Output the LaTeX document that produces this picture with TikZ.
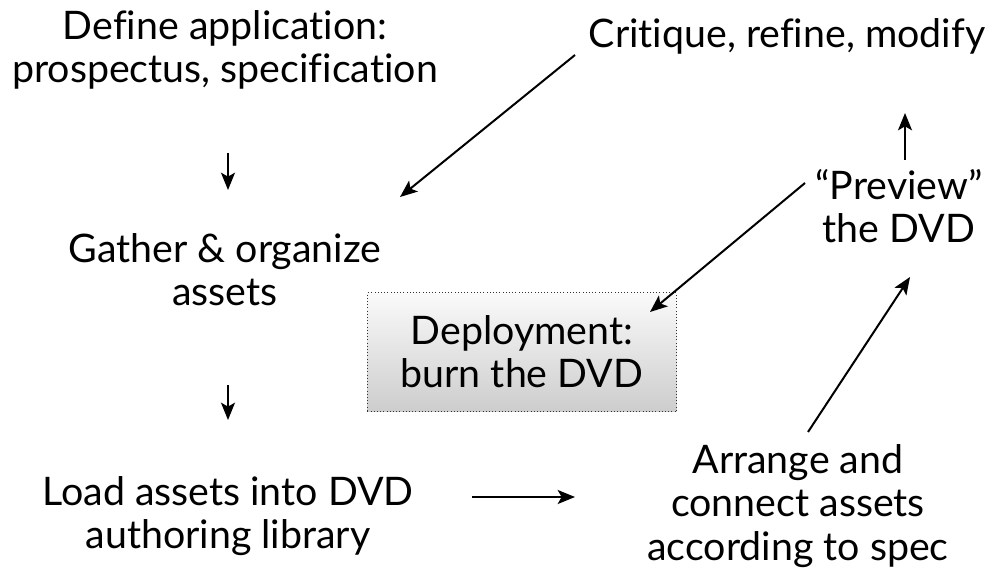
\documentclass[tikz,border=0pt]{standalone}
\usepackage{fontspec}
\setmainfont{Lato}[Ligatures={NoCommon,NoRequired,NoContextual}]
\usetikzlibrary{arrows.meta}
\definecolor{boxtop}{RGB}{250,250,250}
\definecolor{boxbot}{RGB}{205,205,205}
\begin{document}
\begin{tikzpicture}[x=0.75pt, y=-0.75pt,
		lbl/.style={align=center, inner sep=0pt, font=\fontsize{29.5}{32.5}\selectfont},
		depbox/.style={lbl, draw=black!80, dotted, thin, top color=boxtop, bottom color=boxbot,
			minimum width=232pt, minimum height=89pt},
		arr/.style={-{Stealth[length=13pt,width=10.5pt,inset=3pt]}, line width=1.5pt}]
		\useasboundingbox (0,0) rectangle (998,573);
		
		%steps
		\node[lbl] (def) at (225,50) {Define application:\\prospectus, specification};
		\node[lbl] (crit) at (787,36) {Critique, refine, modify};
		\node[lbl] (gat) at (225,270) {Gather \& organize\\assets};
		\node[depbox] (dep) at (522,352) {Deployment:\\burn the DVD};
		\node[lbl] (load) at (228,516) {Load assets into DVD\\authoring library};
		\node[lbl] (arrange) at (798,506) {Arrange and\\connect assets\\according to spec};
		\node[lbl] (prev) at (899,206) {``Preview''\\the DVD};
		
		%arrows
		\draw[arr] ([shift={(3,103)}]def.center) -- ([shift={(3,-80)}]gat.center);
		\draw[arr] ([shift={(3,115)}]gat.center) -- ([shift={(0,-96)}]load.center);
		\draw[arr] ([shift={(244,-19)}]load.center) -- ([shift={(-223,-9)}]arrange.center);
		\draw[arr] ([shift={(10,-74)}]arrange.center) -- ([shift={(11,71)}]prev.center);
		\draw[arr] ([shift={(6,-46)}]prev.center) -- ([shift={(118,77)}]crit.center);
		\draw[arr] ([shift={(-212,19)}]crit.center) -- ([shift={(175,-73)}]gat.center);
		\draw[arr] ([shift={(-94,-23)}]prev.center) -- ([shift={(128,-40)}]dep.center);
\end{tikzpicture}
\end{document}
